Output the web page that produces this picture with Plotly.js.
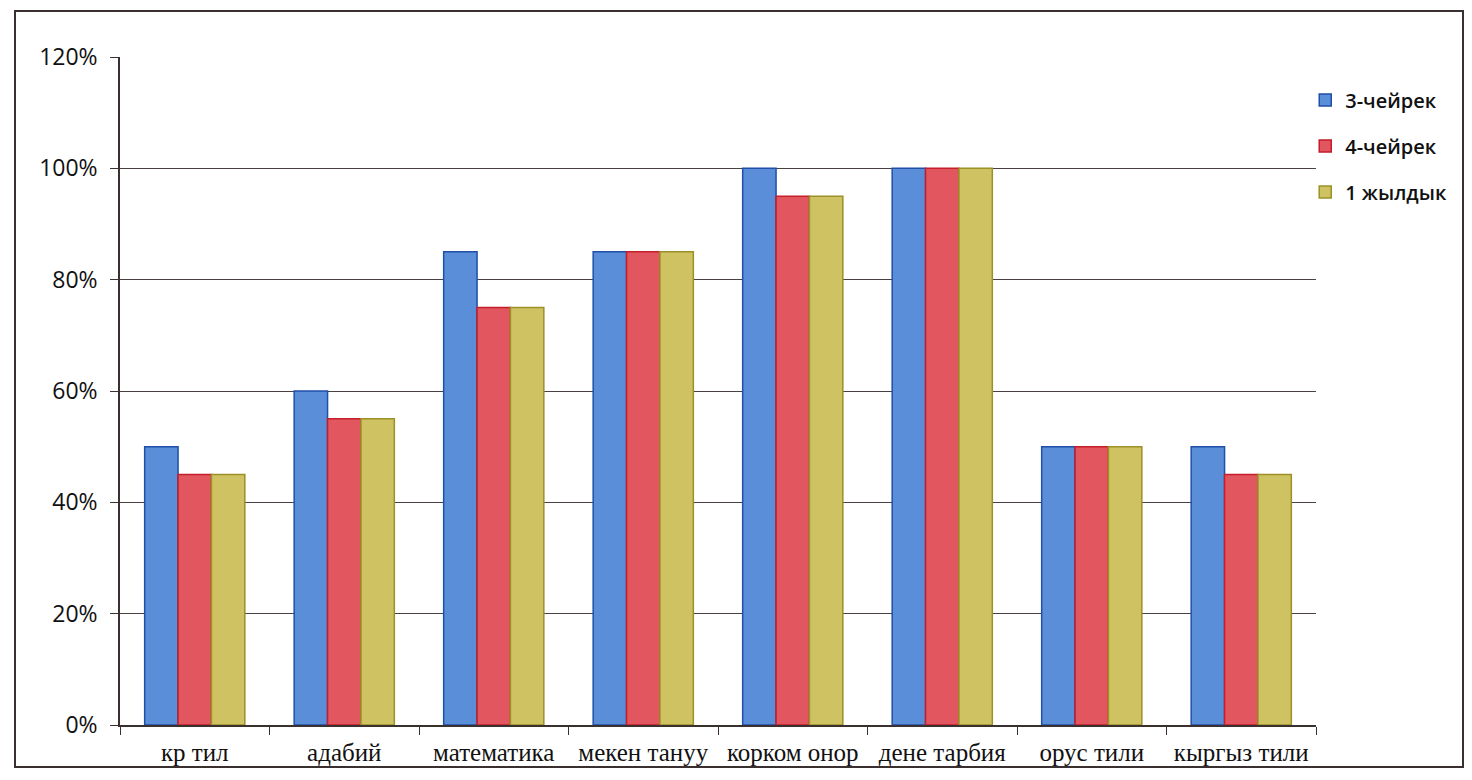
<!DOCTYPE html>
<html>
<head>
<meta charset="utf-8">
<script src="https://cdn.plot.ly/plotly-3.0.1.min.js"></script>
<style>
  html, body { margin: 0; padding: 0; background: #ffffff; }
  #frame { position: absolute; left: 14px; top: 10px; width: 1450px; height: 758px; border: 2px solid #3a3030; box-sizing: border-box; }
  #chart { position: absolute; left: 0; top: 0; width: 1472px; height: 780px; }
</style>
</head>
<body>
<div id="chart"></div>
<div id="frame"></div>
<script>
const categories = ["кр тил", "адабий", "математика", "мекен тануу", "корком онор", "дене тарбия", "орус тили", "кыргыз тили"];
const seriesNames = ["3-чейрек", "4-чейрек", "1 жылдык"];
const q3 = [0.50, 0.60, 0.85, 0.85, 1.00, 1.00, 0.50, 0.50];
const q4 = [0.45, 0.55, 0.75, 0.85, 0.95, 1.00, 0.50, 0.45];
const year = [0.45, 0.55, 0.75, 0.85, 0.95, 1.00, 0.50, 0.45];
const yTicks = [0, 0.2, 0.4, 0.6, 0.8, 1.0, 1.2];

const fills = ["#5a8ed8", "#e2565f", "#cfc263"];
const edges = ["#1f4fa8", "#c41e2a", "#9c9028"];
const values = [q3, q4, year];

const traces = values.map((v, i) => ({
  type: "bar",
  name: seriesNames[i],
  x: categories,
  y: v,
  legendgroup: "g" + i,
  marker: { color: fills[i], line: { color: edges[i], width: 1.5 } },
  hovertemplate: "%{x}: %{y:.0%}<extra>" + seriesNames[i] + "</extra>"
}));

const layout = {
  width: 1472,
  height: 780,
  margin: { l: 120, r: 156, t: 57, b: 55 },
  paper_bgcolor: "rgba(0,0,0,0)",
  plot_bgcolor: "#ffffff",
  barmode: "group",
  bargap: 0.33,
  bargroupgap: 0,
  showlegend: true,
  legend: {
    x: 0.991, xanchor: "left", y: 0.965, yanchor: "top",
    font: { family: "Open Sans, Liberation Sans, sans-serif", size: 20, color: "#111111", weight: 600 },
    tracegroupgap: 17,
    itemwidth: 30,
    bgcolor: "rgba(0,0,0,0)"
  },
  xaxis: {
    type: "category",
    tickson: "boundaries",
    ticks: "outside",
    ticklen: 8,
    tickcolor: "#3a3030",
    showline: true,
    linecolor: "#3a3030",
    linewidth: 1.5,
    showgrid: false,
    tickfont: { family: "Liberation Serif, DejaVu Serif, serif", size: 25, color: "#111111" },
    ticklabelstandoff: 4
  },
  yaxis: {
    range: [0, 1.2],
    tickvals: yTicks,
    tickformat: ".0%",
    ticks: "outside",
    ticklen: 8,
    tickcolor: "#3a3030",
    showline: true,
    linecolor: "#3a3030",
    linewidth: 1.5,
    showgrid: true,
    gridcolor: "#4a4040",
    gridwidth: 1,
    zeroline: false,
    ticklabelstandoff: 8,
    tickfont: { family: "Open Sans, Liberation Sans, sans-serif", size: 23, color: "#111111" }
  }
};

Plotly.newPlot("chart", traces, layout, { displayModeBar: false, staticPlot: false });
</script>
</body>
</html>
